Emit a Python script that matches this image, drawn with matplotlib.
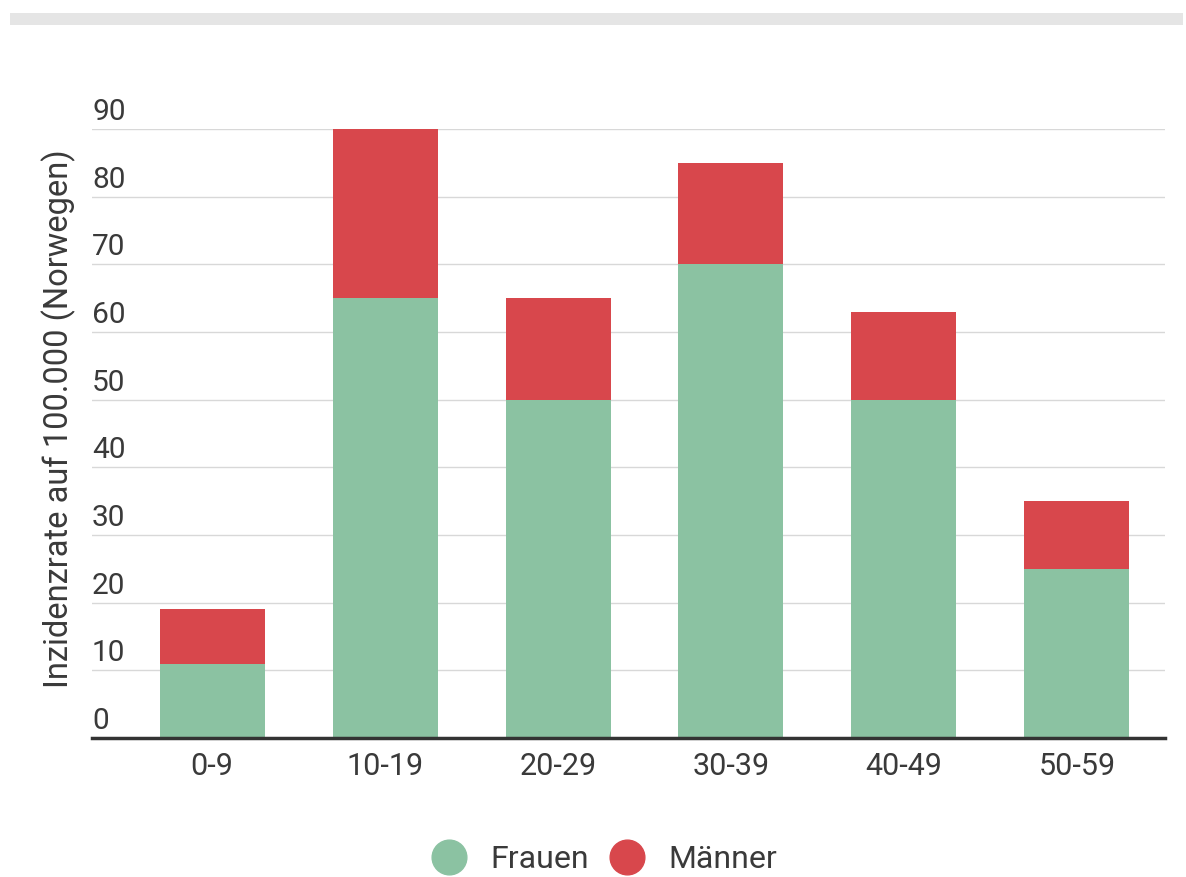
import matplotlib
matplotlib.use("Agg")
import matplotlib.pyplot as plt
from matplotlib.patches import Rectangle
from matplotlib.lines import Line2D
import matplotlib.transforms as mtransforms

categories = ["0-9", "10-19", "20-29", "30-39", "40-49", "50-59"]
frauen = [11, 65, 50, 70, 50, 25]
maenner = [8, 25, 15, 15, 13, 10]
yticks = [0, 10, 20, 30, 40, 50, 60, 70, 80, 90]
ylabel = "Inzidenzrate auf 100.000 (Norwegen)"
legend_labels = ["Frauen", "Männer"]

green = "#8bc2a2"
red = "#d8474c"
txt = "#3a3a3a"
plt.rcParams["font.family"] = ["Roboto", "DejaVu Sans"]

fig = plt.figure(figsize=(11.86, 8.77), dpi=100)
fig.patch.set_facecolor("white")
# top gray band
fig.patches.append(Rectangle((10 / 1186, 1 - 25 / 877), 1173 / 1186, 12 / 877,
                             transform=fig.transFigure, facecolor="#e5e5e5",
                             edgecolor="none"))

ax = fig.add_axes([92 / 1186, (877 - 738) / 877, (1165 - 92) / 1186, (738 - 129) / 877])
x = list(range(len(categories)))
ax.bar(x, frauen, width=0.607, color=green, zorder=3)
ax.bar(x, maenner, bottom=frauen, width=0.607, color=red, zorder=3)
ax.set_xlim(-0.694, 5.509)
ax.set_ylim(0, 90)

for s in ["top", "right", "left"]:
    ax.spines[s].set_visible(False)
ax.spines["bottom"].set_color("#333333")
ax.spines["bottom"].set_linewidth(2.5)
ax.spines["bottom"].set_zorder(4)

ax.set_yticks(yticks)
ax.set_yticklabels([])
ax.tick_params(axis="y", length=0)
ax.grid(axis="y", color="#d8d8d8", linewidth=1, zorder=0)

trans = mtransforms.blended_transform_factory(ax.transAxes, ax.transData)
trans = mtransforms.offset_copy(trans, fig=fig, x=0, y=3, units="dots")
for t in yticks:
    ax.text(0.0, t, str(t), transform=trans, ha="left", va="bottom",
            fontsize=21.5, color=txt)

ax.set_xticks(x)
ax.set_xticklabels(categories, fontsize=22, color=txt)
ax.tick_params(axis="x", length=0, pad=10)

fig.text(59 / 1186, 1 - 419 / 877, ylabel, rotation=90, ha="center", va="center",
         fontsize=23.5, color=txt)

handles = [Line2D([0], [0], marker="o", linestyle="none", markersize=25,
                  markerfacecolor=c, markeredgecolor=c) for c in (green, red)]
fig.legend(handles, legend_labels, loc="center", bbox_to_anchor=(597 / 1186, 1 - 860 / 877),
           ncol=2, frameon=False, fontsize=23, handletextpad=0.3, columnspacing=0.2,
           labelcolor=txt)

fig.savefig("out.png", dpi=100, facecolor="white")
